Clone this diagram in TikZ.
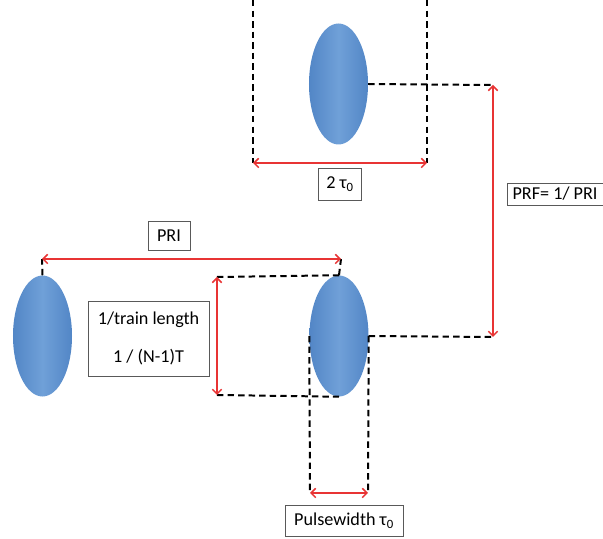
\documentclass[tikz,border=0pt]{standalone}
\usepackage{fontspec}
\setmainfont{Carlito}
\usetikzlibrary{shapes.geometric,arrows.meta}
\definecolor{pulseblue}{RGB}{112,160,216}
\definecolor{pulsedark}{RGB}{82,134,198}
\definecolor{spanred}{RGB}{232,52,52}
\tikzset{
  pulse/.style={ellipse, minimum width=1.77cm, minimum height=3.63cm, inner sep=0pt,
    left color=pulsedark, right color=pulsedark, middle color=pulseblue},
  guide/.style={black, line width=1.7pt, dash pattern=on 5.5pt off 3.5pt},
  span/.style={spanred, line width=1.3pt, {Straight Barb[length=4pt,width=8pt]}-{Straight Barb[length=4pt,width=8pt]}},
  tag/.style={draw=black!65, line width=0.6pt, fill=white, inner sep=2pt,
    font=\fontsize{15.5}{19}\selectfont}
}
\begin{document}
\begin{tikzpicture}[x=0.03cm, y=-0.03cm]
    \useasboundingbox (0,0) rectangle (603,539);

    % pulses
    \node[pulse] (p1) at (42.5,336) {};
    \node[pulse] (p2) at (339,336) {};
    \node[pulse] (p3) at (338.5,84) {};

    % 2 tau_0 window round the top pulse
    \coordinate (t1) at (253,0);
    \coordinate (b1) at (253,163);
    \coordinate (t2) at (427,0);
    \coordinate (b2) at (427,163);
    \draw[guide] (t1) -- (b1);
    \draw[guide] (t2) -- (b2);
    \draw[span] (b1) -- (b2);
    \node[tag, minimum width=1.29cm, minimum height=0.96cm] (win) at (340,184) {2 τ\textsubscript{0}};

    % PRF
    \coordinate (r1) at (493,85);
    \coordinate (r2) at (493,337);
    \draw[guide] (p3.east) -- (r1);
    \draw[guide] (p2.east) -- (r2);
    \draw[span] (r1) -- (r2);
    \node[tag, minimum width=2.88cm, minimum height=0.66cm] (prf) at (555,194) {PRF= 1/ PRI};

    % PRI
    \coordinate (a1) at (42,259);
    \coordinate (a2) at (341,259);
    \draw[guide] (p1.north) -- (a1);
    \draw[guide] (p2.north) -- (a2);
    \draw[span] (a1) -- (a2);
    \node[tag, minimum width=1.26cm, minimum height=0.87cm] (pri) at (169,236) {PRI};

    % train length
    \coordinate (c1) at (217,277);
    \coordinate (c2) at (217,395);
    \draw[guide] (c1) -- (p2.north);
    \draw[guide] (c2) -- (p2.south);
    \draw[span] (c1) -- (c2);
    \node[tag, minimum width=3.63cm, minimum height=2.25cm, align=center] (train) at (148.5,338.5)
      {1/train length\\[0.45cm]1 / (N-1)T};

    % pulse width
    \coordinate (d1) at (310,493);
    \coordinate (d2) at (368,493);
    \draw[guide] (p2.west) -- (d1);
    \draw[guide] (p2.east) -- (d2);
    \draw[span] (d1) -- (d2);
    \node[tag, minimum width=3.54cm, minimum height=0.93cm] (width) at (344,521) {Pulsewidth τ\textsubscript{0}};
\end{tikzpicture}
\end{document}
